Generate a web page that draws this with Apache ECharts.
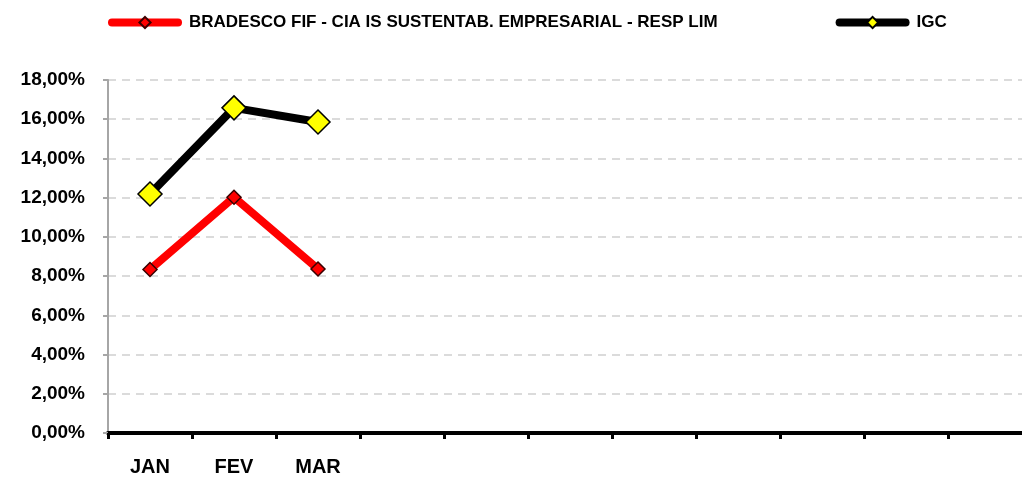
<!DOCTYPE html>
<html><head><meta charset="utf-8">
<script src="https://cdn.jsdelivr.net/npm/echarts@6/dist/echarts.min.js"></script>
<style>html,body{margin:0;padding:0;background:#fff}#c{width:1022px;height:477px}</style>
</head><body><div id="c"></div>
<script>
const categories = ['JAN','FEV','MAR','','','','','','','','',''];
const fundName = 'BRADESCO FIF - CIA IS SUSTENTAB. EMPRESARIAL - RESP LIM';
const fundValues = [0.0834, 0.1202, 0.0836];
const indexName = 'IGC';
const indexValues = [0.1219, 0.1658, 0.1586];
const yTicks = {min: 0, max: 0.18, interval: 0.02};

const FONT = '"Liberation Sans", Arial, sans-serif';
const chart = echarts.init(document.getElementById('c'));
chart.setOption({
  animation: false,
  backgroundColor: '#fff',
  legend: {
    top: 9, left: 103, itemGap: 118, itemWidth: 66, itemHeight: 14,
    lineStyle: {width: 8, cap: 'round'},
    textStyle: {fontFamily: FONT, fontWeight: 'bold', fontSize: 17, color: '#000', padding: [0, 0, 0, 6]},
    data: [fundName, indexName]
  },
  grid: {left: 108, top: 80, width: 1008, height: 353, containLabel: false, outerBoundsMode: 'none'},
  xAxis: {
    type: 'category', data: categories, boundaryGap: true,
    axisLine: {lineStyle: {color: '#000', width: 4}},
    axisTick: {show: true, length: 6, lineStyle: {color: '#000', width: 3}},
    axisLabel: {fontFamily: FONT, fontWeight: 'bold', fontSize: 20, color: '#000', margin: 24, interval: 0},
    splitLine: {show: false}
  },
  yAxis: {
    type: 'value', min: yTicks.min, max: yTicks.max, interval: yTicks.interval,
    axisLine: {show: true, lineStyle: {color: '#a6a6a6', width: 2}},
    axisTick: {show: true, length: 5, lineStyle: {color: '#a6a6a6', width: 2}},
    axisLabel: {fontFamily: FONT, fontWeight: 'bold', fontSize: 19, color: '#000', margin: 23,
      formatter: v => (v*100).toFixed(2).replace('.', ',') + '%'},
    splitLine: {show: true, lineStyle: {color: '#d0d0d0', width: 1.5, type: [8, 6]}}
  },
  series: [
    {
      name: fundName, type: 'line', data: fundValues,
      symbol: 'diamond', symbolSize: 14,
      lineStyle: {color: '#ff0000', width: 8, cap: 'round'},
      itemStyle: {color: '#ff0000', borderColor: '#3a0000', borderWidth: 1.5},
      z: 2
    },
    {
      name: indexName, type: 'line', data: indexValues,
      symbol: 'diamond', symbolSize: 24,
      lineStyle: {color: '#000', width: 8, cap: 'round'},
      itemStyle: {color: '#ffff00', borderColor: '#000', borderWidth: 1.5},
      z: 3
    }
  ]
});
</script></body></html>
